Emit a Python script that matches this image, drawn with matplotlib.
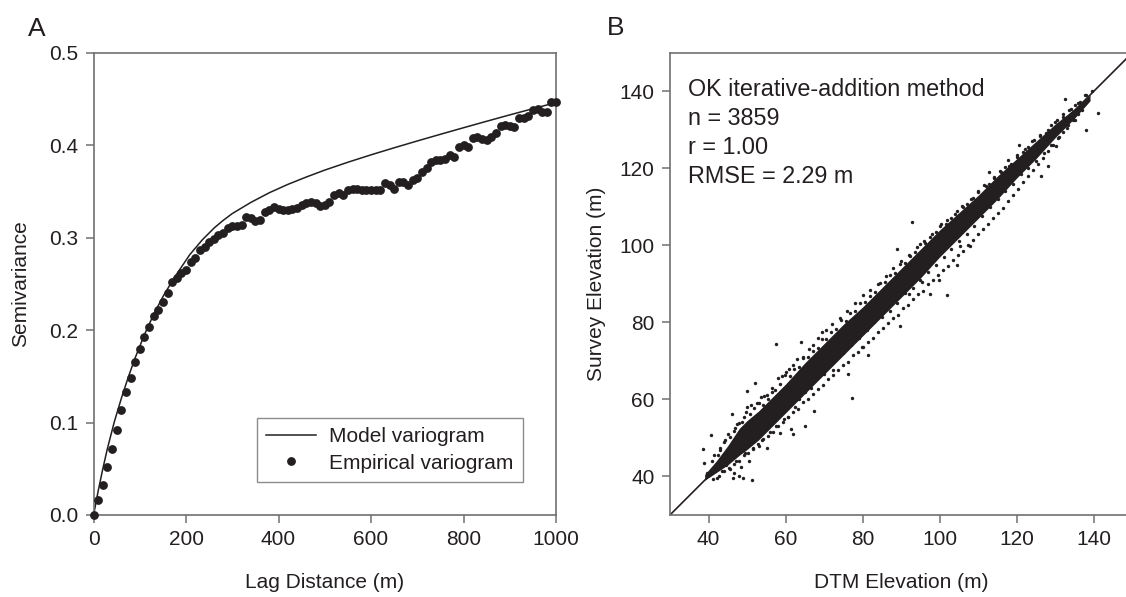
import matplotlib
matplotlib.use("Agg")
import matplotlib.pyplot as plt
from matplotlib.ticker import FormatStrFormatter

plt.rcParams["font.family"] = ["Liberation Sans", "DejaVu Sans"]

INK = "#231f20"
GREY = "#707070"

# --- panel A: variogram (lag bins every 10 m) ---
lag = list(range(0, 1001, 10))
semivar = [0.000, 0.016, 0.032, 0.052, 0.071, 0.092, 0.114, 0.133, 0.148, 0.165,
           0.180, 0.192, 0.203, 0.215, 0.222, 0.230, 0.240, 0.252, 0.256, 0.262,
           0.265, 0.274, 0.278, 0.287, 0.290, 0.295, 0.299, 0.303, 0.305, 0.310,
           0.312, 0.313, 0.314, 0.322, 0.321, 0.318, 0.319, 0.328, 0.330, 0.333,
           0.331, 0.330, 0.330, 0.331, 0.332, 0.335, 0.337, 0.338, 0.337, 0.334,
           0.335, 0.338, 0.346, 0.348, 0.346, 0.351, 0.353, 0.353, 0.352, 0.351,
           0.352, 0.351, 0.351, 0.359, 0.357, 0.353, 0.360, 0.360, 0.357, 0.362,
           0.364, 0.371, 0.375, 0.382, 0.384, 0.384, 0.385, 0.389, 0.387, 0.398,
           0.400, 0.398, 0.408, 0.409, 0.407, 0.405, 0.409, 0.413, 0.421, 0.422,
           0.421, 0.420, 0.429, 0.429, 0.431, 0.438, 0.439, 0.436, 0.436, 0.447,
           0.447]

model_lag = [0, 10, 20, 30, 45, 60, 75, 90, 110, 130, 151, 175, 208, 235, 261,
             280, 300, 340, 380, 420, 460, 500, 550, 600, 650, 700, 750, 800,
             850, 900, 950, 1000]
model_gamma = [0, 0.026, 0.050, 0.072, 0.101, 0.126, 0.149, 0.170, 0.195, 0.217,
               0.237, 0.257, 0.2815, 0.2975, 0.3105, 0.3185, 0.3260, 0.338,
               0.3485, 0.3575, 0.3655, 0.3730, 0.3815, 0.3895, 0.3971, 0.4045,
               0.4117, 0.4188, 0.4258, 0.4327, 0.4394, 0.446]

# --- panel B: DTM vs survey elevation ---
# solid core of the point cloud (lower / upper edge at each DTM value)
core_dtm = [39, 42, 45, 48, 50, 53, 56, 60, 65, 70, 75, 80, 85, 90, 95, 100,
            105, 110, 115, 120, 125, 130, 135, 139]
core_lo = [39, 41, 43, 45.5, 47, 49.5, 52.5, 56.5, 61.5, 66.5, 71.5, 76.5, 81.5,
           86.5, 91.5, 97, 102, 107, 112, 117.5, 122.5, 128, 133, 137.5]
core_hi = [40.5, 44, 48, 52.5, 54.5, 57, 60, 64, 69.5, 74.5, 79.5, 84, 89, 94,
           99, 104, 108.5, 113, 118, 122.5, 127, 131.5, 135.5, 139]

# scattered points around the core and outliers
dtm = [38.7, 38.9, 39.5, 40.2, 40.7, 41, 42.2, 42.5, 43, 43.5, 44, 44.5, 45, 45.5,
       46.2, 46.4, 46.5, 47, 47.2, 47.9, 48, 48.5, 49, 49.2, 49.5, 50, 50.1, 50.5,
       51, 51.4, 51.5, 52.1, 52.5, 53, 53.5, 54, 54.5, 55.3, 55.5, 56, 56.5, 57.4,
       57.5, 58, 58.5, 59, 59.5, 60, 60.5, 61, 61.3, 62, 62, 62.5, 63, 63.5, 64,
       64.5, 65, 65, 66, 66.5, 67, 67.5, 68, 68.5, 69.4, 70, 70.5, 71, 72, 72.3,
       73, 74, 75, 76, 76.3, 77, 77.3, 78, 79, 79.9, 80, 81, 81.4, 82, 83, 84, 85,
       86, 87, 88, 88, 88.8, 89, 89.8, 90, 91, 91.9, 92, 92.9, 93, 94, 95, 95.5,
       96, 97, 97.4, 98, 99, 99.8, 100, 101, 102, 102, 103, 103, 104, 104.5, 105,
       105.2, 106, 107, 107.8, 108, 109, 110, 111, 112, 112.7, 113, 114, 115, 116,
       117, 117.7, 118, 119, 120, 120.5, 121, 122, 123, 124, 125, 126, 126.3, 127,
       128, 128.1, 129, 130, 130.2, 131, 132, 132.5, 133, 134, 135, 136, 137, 138,
       138, 139.5, 141,
       # upper fringe
       41.5, 43, 44.2, 45.5, 46.5, 47.5, 48.6, 49.6, 50.8, 51.8, 53.2, 54.1, 55.2,
       56.4, 57.3, 58.6, 59.8, 61.2, 62.3, 63.6, 64.6, 65.8, 67.1, 68.3, 69.5,
       70.6, 71.8, 73.1, 74.4, 75.6, 76.8, 78.1, 79.3, 80.6, 82, 83.2, 84.5, 85.8,
       87.1, 88.4, 89.6, 91, 92.3, 93.6, 95, 96.3, 97.6, 99, 100.3, 101.7, 103,
       104.4, 105.8, 107.2, 108.6, 110, 111.4, 112.8, 114.2, 115.6, 117, 118.5,
       120, 121.5, 123, 124.5, 126, 127.5, 129, 130.5, 132, 133.5, 135, 136.5,
       137.8,
       # lower fringe
       41.2, 42.6, 44, 45.3, 46.6, 47.8, 49.1, 50.3, 51.6, 52.9, 54.2, 55.4, 56.7,
       58, 59.3, 60.6, 61.9, 63.2, 64.5, 65.8, 67.1, 68.4, 69.7, 71, 72.3, 73.6,
       74.9, 76.2, 77.5, 78.8, 80.1, 81.4, 82.7, 84, 85.3, 86.6, 87.9, 89.2, 90.5,
       91.8, 93.1, 94.4, 95.7, 97, 98.3, 99.6, 100.9, 102.2, 103.5, 104.8, 106.1,
       107.4, 108.7, 110, 111.3, 112.6, 113.9, 115.2, 116.5, 117.8, 119.1, 120.4,
       121.7, 123, 124.3, 125.6, 126.9, 128.2, 129.5, 130.8, 132.1, 133.4, 134.7,
       136]
survey = [47.1, 43.5, 41, 40.5, 50.7, 44, 39.7, 45.5, 47.5, 41.5, 49, 43, 51, 42,
          56.3, 39.7, 41, 52.5, 44, 40, 54, 42.5, 39.6, 55.5, 46, 62.3, 57.9, 44,
          58.5, 39.1, 47.5, 64.2, 59, 48, 60.5, 49.5, 61, 47.4, 60, 51.5, 63, 74.4,
          53, 65.5, 51.4, 66, 55, 67, 55.5, 68, 52.4, 51.1, 69, 58, 70.5, 60, 75,
          71, 53.2, 62, 73, 63, 74, 57.1, 66, 76, 77.5, 66.5, 78, 69, 79.5, 67.5,
          71, 81, 72, 83, 66.6, 74, 60.3, 85, 76, 73.5, 87, 78, 71.5, 88.5, 80, 90,
          81.5, 92, 83, 85.3, 94, 99.1, 85, 79, 96, 87.5, 87.3, 97.5, 106.1, 89,
          99.5, 91, 90.4, 101, 93, 87.3, 103, 95, 91, 105, 97, 87.1, 106.5, 101.2,
          99, 108, 94.9, 101, 99.9, 110, 103, 99.9, 112, 105, 114, 107.5, 115.5,
          119.1, 110, 117.5, 112, 119, 114, 122.1, 120.5, 116, 123, 126, 118.5, 125,
          120, 127, 122, 128.5, 118, 124, 130, 120.6, 126, 132, 125.7, 128, 134,
          138, 130.5, 135.5, 132.5, 137, 135, 130, 139, 140, 134.3,
          # upper fringe
          45.5, 46.8, 49.5, 50.2, 51.8, 53.5, 54.2, 56.6, 56.2, 57.8, 59.1, 58.6,
          61.2, 61.8, 62.5, 64.1, 66.3, 66.2, 67.9, 68.4, 70.8, 70.9, 72.6, 73.4,
          75.7, 75.8, 77.4, 78.2, 80.6, 80.4, 82.3, 82.9, 85.1, 85.2, 86.9, 87.8,
          90.3, 90.4, 92.2, 92.7, 95.1, 95.3, 97.1, 98.2, 100.4, 100.6, 102.1,
          103.4, 105.6, 105.5, 107.2, 108.9, 110.1, 110.7, 112.4, 113.9, 115.6,
          115.9, 117.6, 119.3, 120.2, 121, 123.4, 124.1, 125.6, 127.3, 128.4,
          129.2, 131.1, 132.6, 133.4, 135.2, 136.4, 137.3, 138.9,
          # lower fringe
          39.3, 40.2, 41.3, 42.1, 43.2, 44.1, 45.6, 46.2, 47.1, 48.3, 49.7, 50.6,
          51.5, 53.2, 54.1, 55.4, 56.7, 57.6, 59.3, 60.2, 61.5, 62.8, 63.7, 65.4,
          66.3, 67.6, 68.9, 69.8, 71.5, 72.4, 73.7, 75, 75.9, 77.6, 78.5, 79.8,
          81.1, 82, 83.7, 84.6, 86, 87.3, 88.2, 89.9, 91, 92.2, 93.5, 94.6, 96.3,
          97.4, 98.6, 100.2, 101.3, 102.9, 104.2, 105.4, 107, 108.5, 109.7, 111.5,
          113.1, 114.6, 116.3, 117.9, 119.6, 121.2, 122.7, 124.6, 126.1, 127.9,
          129.4, 131.1, 132.5, 134.2]

fig = plt.figure(figsize=(11.26, 5.97), dpi=100)
axA = fig.add_axes([0.0831, 0.1374, 0.4107, 0.7744])
axB = fig.add_axes([0.5950, 0.1374, 0.4107, 0.7744])

# panel A
axA.plot(model_lag, model_gamma, color=INK, lw=1.1, label="Model variogram")
axA.plot(lag, semivar, "o", color=INK, ms=5.3, mec=INK, clip_on=False,
         zorder=3, label="Empirical variogram")
axA.set_xlim(0, 1000)
axA.set_ylim(0, 0.5)
axA.set_xticks([0, 200, 400, 600, 800, 1000])
axA.set_yticks([0, 0.1, 0.2, 0.3, 0.4, 0.5])
axA.yaxis.set_major_formatter(FormatStrFormatter("%.1f"))
axA.set_xlabel("Lag Distance (m)", fontsize=15, color=INK)
axA.set_ylabel("Semivariance", fontsize=15, color=INK, va="center")
axA.xaxis.set_label_coords(0.5, -0.125)
axA.yaxis.set_label_coords(-0.157, 0.5)
leg = axA.legend(loc="lower right", bbox_to_anchor=(0.929, 0.071),
                 borderaxespad=0, fontsize=15, frameon=True, fancybox=False,
                 handlelength=2.4, handletextpad=0.65, borderpad=0.45,
                 labelspacing=0.35, numpoints=1)
leg.get_frame().set_edgecolor(GREY)
leg.get_frame().set_linewidth(1.0)
for t in leg.get_texts():
    t.set_color(INK)

# panel B
axB.axline((30, 30), slope=1, color=INK, lw=1.2, zorder=1)
axB.fill_between(core_dtm, core_lo, core_hi, color=INK, lw=0, zorder=2)
axB.scatter(dtm, survey, s=6, color=INK, lw=0, zorder=3)
axB.set_xlim(30, 150)
axB.set_ylim(30, 150)
axB.set_xticks([40, 60, 80, 100, 120, 140])
axB.set_yticks([40, 60, 80, 100, 120, 140])
axB.set_xlabel("DTM Elevation (m)", fontsize=15, color=INK)
axB.set_ylabel("Survey Elevation (m)", fontsize=15, color=INK, va="center")
axB.xaxis.set_label_coords(0.5, -0.125)
axB.yaxis.set_label_coords(-0.158, 0.5)
axB.spines["right"].set_visible(False)

notes = ["OK iterative-addition method", "n = 3859", "r = 1.00", "RMSE = 2.29 m"]
note_y = [0.9071, 0.8445, 0.7812, 0.7177]
for txt, yy in zip(notes, note_y):
    axB.text(0.038, yy, txt, transform=axB.transAxes, fontsize=16.8,
             color=INK, va="baseline")

for ax in (axA, axB):
    for sp in ax.spines.values():
        sp.set_color(GREY)
        sp.set_linewidth(1.2)
    ax.tick_params(direction="out", length=6, width=1.1, color=GREY,
                   labelsize=15, labelcolor=INK, pad=5)

fig.text(0.0249, 0.9397, "A", fontsize=19, color=INK, va="baseline")
fig.text(0.539, 0.941, "B", fontsize=19, color=INK, va="baseline")

fig.savefig("out.png", dpi=100)
